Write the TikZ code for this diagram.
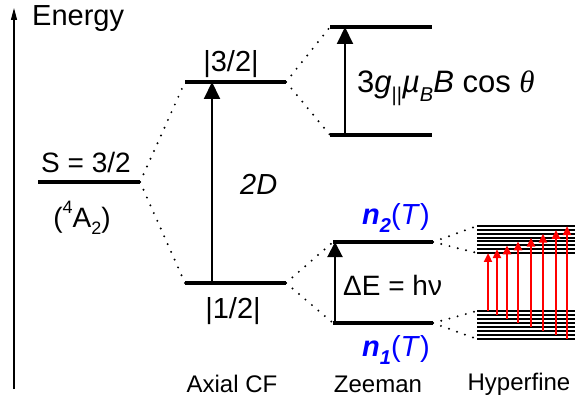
\documentclass[tikz,border=0pt]{standalone}
\usepackage{fontspec}
\setmainfont{Liberation Sans}
\newfontfamily\greekserif{Liberation Serif}
\usetikzlibrary{arrows.meta}
\newcommand\fs[1]{\fontsize{#1}{#1}\selectfont}
\newcommand\mysub[2]{\raisebox{-0.28em}{\fs{#1}#2}}
\newcommand\mysup[2]{\raisebox{0.5em}{\fs{#1}#2}}
\begin{document}
\begin{tikzpicture}[x=1pt,y=-1pt,
  lvl/.style={line width=4pt},
  dots/.style={line width=2.2pt, line cap=round, dash pattern=on 0pt off 8.5pt},
  hf/.style={line width=2pt},
  bigarr/.style={line width=2pt, -{Triangle[width=16pt,length=17pt]}},
  redarr/.style={red, line width=2.5pt, -{Triangle[width=8pt,length=9pt]}},
  txt/.style={inner sep=0pt, anchor=base},
  lbl/.style={txt, font=\fs{29}},
  blab/.style={txt, font=\fs{24}}]
\useasboundingbox (0,0) rectangle (576,401);
% energy axis
\coordinate (axB) at (14,389);
\coordinate (axT) at (14,8);
\draw[line width=1.2pt, -{Triangle[width=6pt,length=12pt]}] (axB) -- (axT);
\node[lbl, anchor=base west] (energy) at (32,26) {Energy};
% free ion level
\coordinate (sL) at (38,182); \coordinate (sR) at (140,182);
\draw[lvl] (sL) -- (sR);
\node[lbl, font=\fs{28}] (stxt) at (86,172) {S = 3/2};
\node[lbl, font=\fs{28}] (atxt) at (82,227) {(\mysup{18}{4}A\mysub{18}{2})};
% axial CF levels
\coordinate (h32L) at (185,82); \coordinate (h32R) at (286,82);
\coordinate (h12L) at (185,283); \coordinate (h12R) at (286,283);
\draw[lvl] (h32L) -- (h32R);
\draw[lvl] (h12L) -- (h12R);
\node[lbl] (t32) at (231,72) {|3/2|};
\node[lbl] (t12) at (233,318) {|1/2|};
\coordinate (dA) at (212,283); \coordinate (dB) at (212,82);
\draw[bigarr] (dA) -- (dB);
\node[lbl, anchor=base west] (twoD) at (240,195) {\textit{2D}};
% Zeeman of 3/2
\coordinate (z3uL) at (330,27); \coordinate (z3uR) at (432,27);
\coordinate (z3lL) at (330,135); \coordinate (z3lR) at (432,135);
\draw[lvl] (z3uL) -- (z3uR);
\draw[lvl] (z3lL) -- (z3lR);
\coordinate (zaA) at (345,135); \coordinate (zaB) at (345,27);
\draw[bigarr] (zaA) -- (zaB);
\node[lbl, font=\fs{31}, anchor=base west] (zt) at (357,93)
  {3\textit{g}\mysub{20}{||}\textit{\textmu}\mysub{20}{\textit{B}}\textit{B} cos {\greekserif\itshape θ}};
% Zeeman of 1/2
\coordinate (z1uL) at (333,242); \coordinate (z1uR) at (433,242);
\coordinate (z1lL) at (333,323); \coordinate (z1lR) at (433,323);
\draw[lvl] (z1uL) -- (z1uR);
\draw[lvl] (z1lL) -- (z1lR);
\coordinate (zbA) at (335,323); \coordinate (zbB) at (335,242);
\draw[line width=2pt, -{Triangle[width=15pt,length=15pt]}] (zbA) -- (zbB);
\node[lbl, blue, anchor=base west] (n2) at (362,224)
  {\textbf{\textit{n}}\mysub{20}{\textbf{\textit{2}}}(\textit{T})};
\node[lbl, blue, anchor=base west] (n1) at (362,356)
  {\textbf{\textit{n}}\mysub{20}{\textbf{\textit{1}}}(\textit{T})};
\node[lbl, font=\fs{28}, anchor=base west] (de) at (343,295) {ΔE = hν};
% dotted connectors
\draw[dots] (sR) -- (h32L);
\draw[dots] (sR) -- (h12L);
\draw[dots] (h32R) -- (z3uL);
\draw[dots] (h32R) -- (z3lL);
\draw[dots] (h12R) -- (z1uL);
\draw[dots] (h12R) -- (z1lL);
% hyperfine bands
\foreach \i in {0,...,7} {
  \coordinate (uL\i) at (477,{226+\i*3.857});
  \coordinate (uR\i) at (575,{226+\i*3.857});
  \coordinate (lL\i) at (477,{311+\i*4});
  \coordinate (lR\i) at (575,{311+\i*4});
  \draw[hf] (uL\i) -- (uR\i);
  \draw[hf] (lL\i) -- (lR\i);
}
\draw[dots] (z1uR) -- (uL0);
\draw[dots] (z1uR) -- (uL7);
\draw[dots] (z1lR) -- (lL0);
\draw[dots] (z1lR) -- (lL7);
% transitions
\foreach \i/\x in {0/488,1/497,2/507,3/518,4/531,5/543,6/556,7/567} {
  \pgfmathtruncatemacro{\j}{7-\i}
  \coordinate (ax\i) at (\x,0);
  \draw[redarr] (ax\i |- lL\i) -- (ax\i |- uL\j);
}
% bottom labels
\node[blab] (axial) at (232,392) {Axial CF};
\node[blab] (zee) at (378,392) {Zeeman};
\node[blab] (hyp) at (519,390) {Hyperfine};
\end{tikzpicture}
\end{document}
